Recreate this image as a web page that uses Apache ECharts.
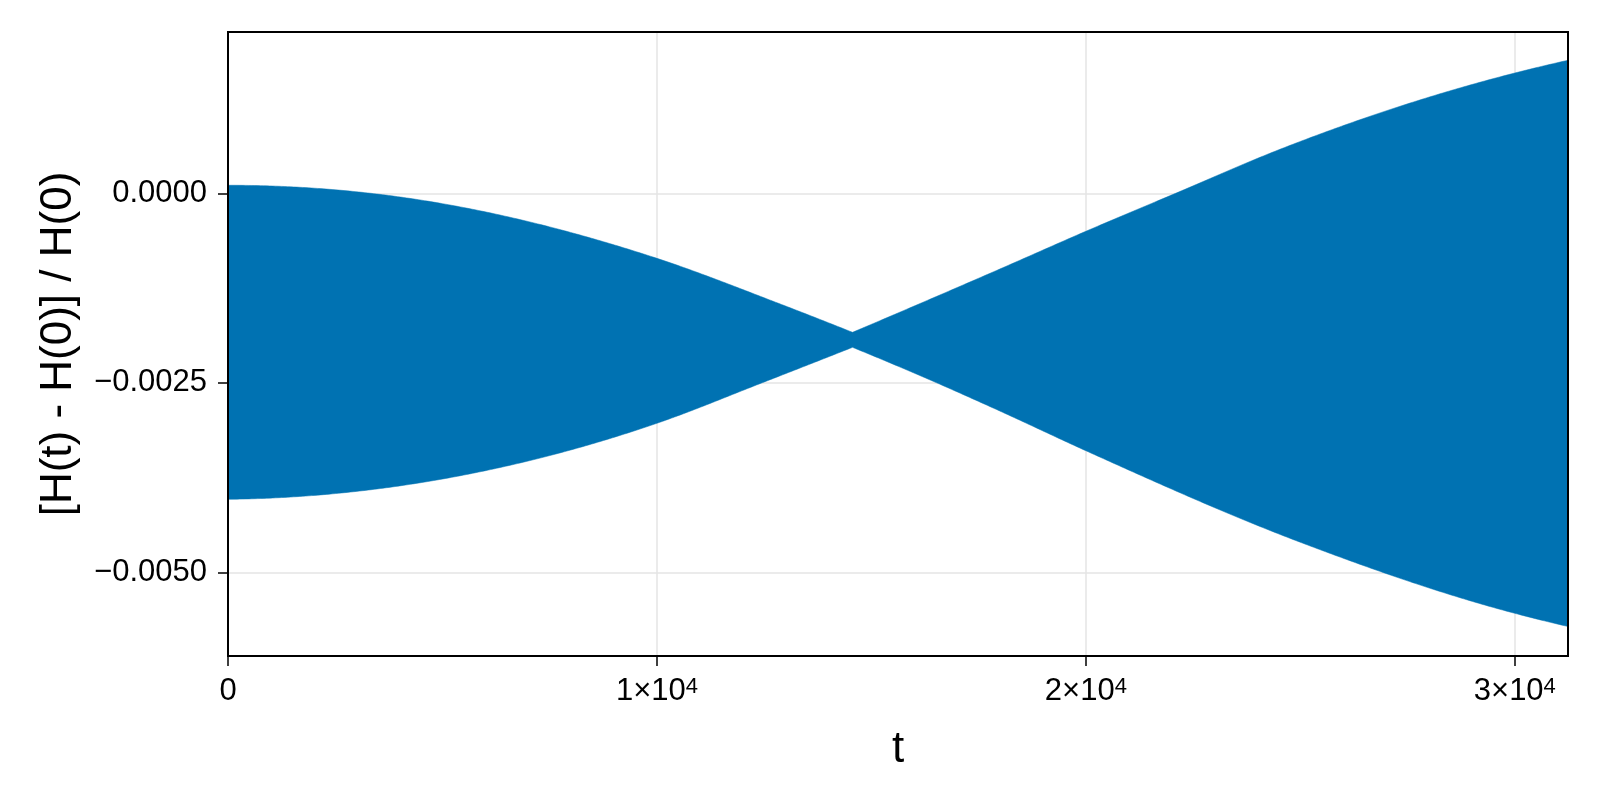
<!DOCTYPE html>
<html>
<head>
<meta charset="utf-8">
<script src="https://cdn.jsdelivr.net/npm/echarts@6/dist/echarts.min.js"></script>
<style>
  html, body { margin: 0; padding: 0; background: #ffffff; }
  #chart { width: 1600px; height: 800px; }
</style>
</head>
<body>
<div id="chart"></div>
<script>
// Upper envelope of the dense oscillation of [H(t) - H(0)] / H(0)
const upperT = [0, 3330, 10000, 12832, 14560, 17978, 20000, 22093, 24483, 30000, 31240];
const upperValues = [0.000106, 0.0, -0.000858, -0.001451, -0.001834,
  -0.001003, -0.000501, 0.0, 0.000571, 0.001587, 0.001755];
// Lower envelope
const lowerT = [0, 5703, 10000, 12452, 14560, 16521, 17978, 20000, 24965, 30000, 31240];
const lowerValues = [-0.004037, -0.003694, -0.003034, -0.0025, -0.002032,
  -0.0025, -0.002868, -0.003396, -0.004596, -0.005541, -0.005715];
// time at which the two envelopes pinch together (kept as a sharp corner)
const pinchT = 14560;
const xTicks = [0, 10000, 20000, 30000];
const yTicks = [-0.005, -0.0025, 0];
const yTickLabels = ['\u22120.0050', '\u22120.0025', '0.0000'];

const FONT = 'Liberation Sans';
const BLUE = '#0072b2';

const bandData = upperT.map((t, i) => [t, upperValues[i]]);

// Smooth cubic Hermite curve through pixel points (rendering only, like smooth: true)
function smoothPixels(pts) {
  const n = pts.length;
  if (n < 3) return pts.slice();
  const h = [], d = [];
  for (let i = 0; i < n - 1; i++) {
    h.push(pts[i + 1][0] - pts[i][0]);
    d.push((pts[i + 1][1] - pts[i][1]) / h[i]);
  }
  const m = new Array(n);
  for (let i = 1; i < n - 1; i++) {
    m[i] = (d[i - 1] * h[i] + d[i] * h[i - 1]) / (h[i - 1] + h[i]);
  }
  m[0] = 2 * d[0] - m[1];
  m[n - 1] = 2 * d[n - 2] - m[n - 2];
  const out = [];
  for (let i = 0; i < n - 1; i++) {
    const steps = Math.max(4, Math.ceil(h[i] / 3));
    for (let s = 0; s < steps; s++) {
      const u = s / steps;
      const h00 = 2 * u * u * u - 3 * u * u + 1, h10 = u * u * u - 2 * u * u + u;
      const h01 = -2 * u * u * u + 3 * u * u, h11 = u * u * u - u * u;
      out.push([
        pts[i][0] + u * h[i],
        h00 * pts[i][1] + h10 * h[i] * m[i] + h01 * pts[i + 1][1] + h11 * h[i] * m[i + 1]
      ]);
    }
  }
  out.push(pts[n - 1]);
  return out;
}
function edge(api, ts, vals) {
  const left = [], right = [];
  for (let i = 0; i < ts.length; i++) {
    const p = api.coord([ts[i], vals[i]]);
    if (ts[i] <= pinchT) left.push(p);
    if (ts[i] >= pinchT) right.push(p);
  }
  return smoothPixels(left).concat(smoothPixels(right).slice(1));
}

const chart = echarts.init(document.getElementById('chart'), null, { renderer: 'canvas' });
chart.setOption({
  animation: false,
  backgroundColor: '#ffffff',
  grid: {
    left: 228, right: 32, top: 32, bottom: 144,
    show: true, borderColor: '#000000', borderWidth: 2, backgroundColor: 'transparent', z: 10
  },
  xAxis: {
    type: 'value',
    min: 0, max: 31240, interval: 10000,
    name: 't', nameLocation: 'middle', nameGap: 72,
    nameTextStyle: { fontFamily: FONT, fontSize: 44, color: '#000' },
    axisLine: { show: true, onZero: false, lineStyle: { color: '#000', width: 2 } },
    axisTick: { show: true, inside: false, length: 10, lineStyle: { color: '#000', width: 1.5 } },
    axisLabel: {
      margin: 20, color: '#000', fontFamily: FONT, fontSize: 31,
      formatter: function (v) {
        if (v === 0) return '{m|0}';
        return '{m|' + (v / 10000) + '\u00d710}{s|4}';
      },
      rich: {
        m: { fontFamily: FONT, fontSize: 31, color: '#000' },
        s: { fontFamily: FONT, fontSize: 22, color: '#000', verticalAlign: 'top' }
      }
    },
    splitLine: { show: true, lineStyle: { color: '#e5e5e5', width: 1.5 } }
  },
  yAxis: {
    type: 'value',
    min: -0.006104, max: 0.002128,
    name: '[H(t) - H(0)] / H(0)', nameLocation: 'middle', nameGap: 147, nameRotate: 90,
    nameTextStyle: { fontFamily: FONT, fontSize: 44, color: '#000' },
    axisLine: { show: true, onZero: false, lineStyle: { color: '#000', width: 2 } },
    axisTick: { show: true, inside: false, length: 10, customValues: yTicks, lineStyle: { color: '#000', width: 1.5 } },
    axisLabel: {
      margin: 21, color: '#000', fontFamily: FONT, fontSize: 31,
      customValues: yTicks,
      formatter: function (v) {
        let best = 0;
        for (let i = 0; i < yTicks.length; i++) {
          if (Math.abs(yTicks[i] - v) < Math.abs(yTicks[best] - v)) best = i;
        }
        return yTickLabels[best];
      }
    },
    splitLine: { show: true, lineStyle: { color: '#e5e5e5', width: 1.5 } }
  },
  series: [
    {
      type: 'custom',
      coordinateSystem: 'cartesian2d',
      data: bandData,
      encode: { x: 0, y: 1 },
      silent: true,
      z: 3,
      renderItem: function (params, api) {
        if (params.dataIndex !== 0) return { type: 'group', children: [] };
        const upperPts = edge(api, upperT, upperValues);
        const lowerPts = edge(api, lowerT, lowerValues).reverse();
        return {
          type: 'polygon',
          shape: { points: upperPts.concat(lowerPts) },
          style: { fill: BLUE, stroke: BLUE, lineWidth: 0.5 }
        };
      }
    }
  ]
});
</script>
</body>
</html>
